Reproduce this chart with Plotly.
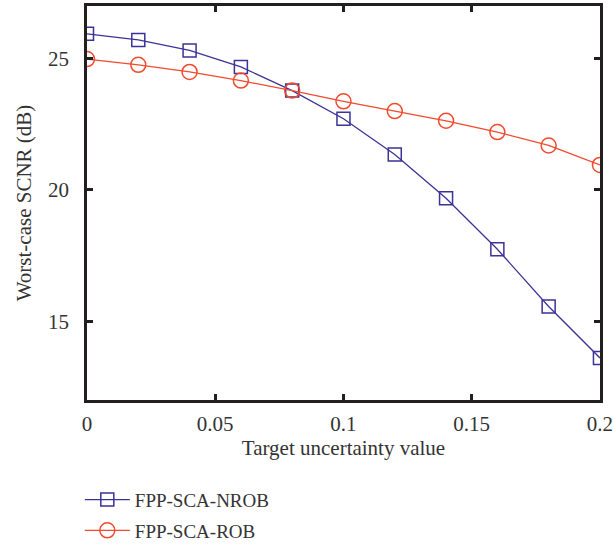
import plotly.graph_objects as go

x_vals = [0, 0.02, 0.04, 0.06, 0.08, 0.10, 0.12, 0.14, 0.16, 0.18, 0.20]
nrob = [25.94, 25.71, 25.31, 24.68, 23.78, 22.71, 21.35, 19.68, 17.74, 15.56, 13.60]
rob = [24.98, 24.76, 24.49, 24.16, 23.78, 23.37, 23.00, 22.63, 22.20, 21.69, 20.95]
names = ["FPP-SCA-NROB", "FPP-SCA-ROB"]
x_ticks = [0, 0.05, 0.1, 0.15, 0.2]
x_tick_text = ["0", "0.05", "0.1", "0.15", "0.2"]
y_ticks = [15, 20, 25]

blue = "#3b3397"
red = "#f24a2e"
axis_col = "#231f20"
text_col = "#333333"
font_fam = "Liberation Serif, Times New Roman, serif"
fs = 21

fig = go.Figure()
fig.add_trace(go.Scatter(x=x_vals, y=nrob, name=names[0], mode="lines+markers", legendgroup="a",
                         line=dict(color=blue, width=1.3),
                         marker=dict(symbol="square-open", size=13, color=blue, line=dict(width=1.5))))
fig.add_trace(go.Scatter(x=x_vals, y=rob, name=names[1], mode="lines+markers", legendgroup="b",
                         line=dict(color=red, width=1.3),
                         marker=dict(symbol="circle-open", size=15, color=red, line=dict(width=1.5))))

axis_common = dict(showline=True, linecolor=axis_col, linewidth=2.5, mirror="ticks",
                   ticks="inside", ticklen=6, tickwidth=2.5, tickcolor=axis_col,
                   showgrid=False, zeroline=False, automargin=False,
                   ticklabeloverflow="allow",
                   tickfont=dict(family=font_fam, size=fs, color=text_col))

fig.update_xaxes(range=[0, 0.20002], tickvals=x_ticks, ticktext=x_tick_text,
                 title=dict(text="Target uncertainty value", font=dict(family=font_fam, size=fs, color=text_col), standoff=5),
                 ticklabelstandoff=3, **axis_common)
fig.update_yaxes(range=[12, 27], tickvals=y_ticks,
                 title=dict(text="Worst-case SCNR (dB)", font=dict(family=font_fam, size=fs, color=text_col), standoff=11),
                 ticklabelstandoff=11, **axis_common)

fig.update_layout(
    width=613, height=546,
    margin=dict(l=87, r=13, t=6, b=146, autoexpand=False),
    plot_bgcolor="white", paper_bgcolor="white",
    font=dict(family=font_fam, size=fs, color=text_col),
    legend=dict(x=-0.014, y=-0.205, xanchor="left", yanchor="top", orientation="v",
                font=dict(family=font_fam, size=19, color=text_col),
                itemwidth=45, tracegroupgap=3, bgcolor="rgba(0,0,0,0)"),
    showlegend=True,
)

fig.write_html("out.html", config={"displayModeBar": False},
               post_script="document.body.style.margin='0px';document.body.style.overflow='hidden';")
